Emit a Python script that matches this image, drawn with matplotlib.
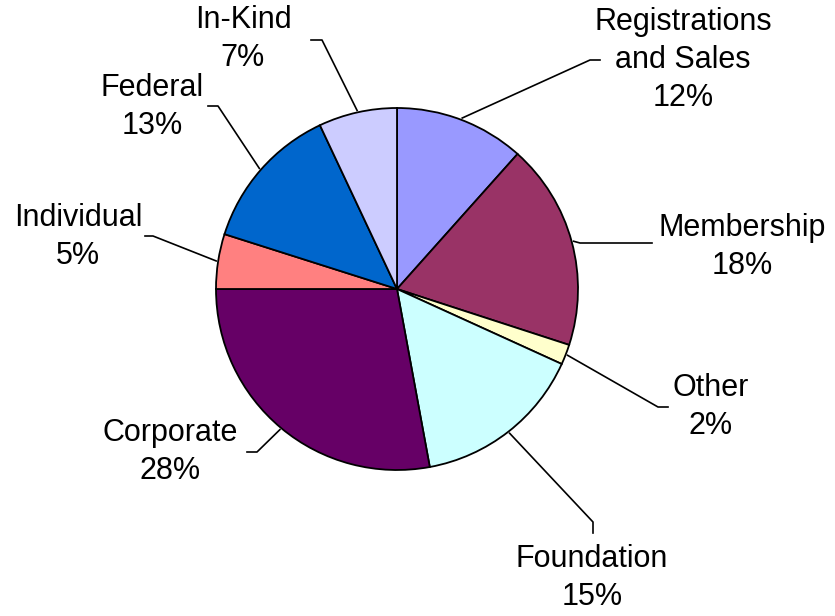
import numpy as np
import matplotlib
matplotlib.use("Agg")
import matplotlib.pyplot as plt

# Data
labels = ["Registrations\nand Sales", "Membership", "Other", "Foundation",
          "Corporate", "Individual", "Federal", "In-Kind"]
values = [11.6, 18.4, 1.8, 15.3, 27.9, 4.9, 13.1, 7.0]
colors = ["#9999FF", "#993366", "#FFFFCC", "#CCFFFF",
          "#660066", "#FF8080", "#0066CC", "#CCCCFF"]

# Layout (pixels from top-left)
W, H = 835, 616
CENTER = (397, 289)
RADIUS = 181
label_pos = [(683, 60), (742, 247), (711, 407), (592, 578),
             (170, 452), (78, 237), (152, 107), (243, 39)]
elbows = [[(590, 60), (600, 60)],
          [(580, 243), (652, 243)],
          [(658, 407), (668, 407)],
          [(593, 522), (593, 533)],
          [(257, 452), (247, 452)],
          [(153, 236), (145, 236)],
          [(218, 106), (208, 106)],
          [(322, 40), (311, 40)]]


def flip(p):
    return (p[0], H - p[1])


fig = plt.figure(figsize=(W / 100, H / 100), dpi=100)
ax = fig.add_axes([0, 0, 1, 1])

wedges, _ = ax.pie(values, colors=colors, startangle=90, counterclock=False,
                   center=flip(CENTER), radius=RADIUS,
                   wedgeprops=dict(edgecolor="black", linewidth=1.3))
ax.set_xlim(0, W)
ax.set_ylim(0, H)
ax.set_aspect("equal")
ax.axis("off")

total = sum(values)
cx, cy = flip(CENTER)
for w, lab, val, pos, elb in zip(wedges, labels, values, label_pos, elbows):
    mid = np.deg2rad((w.theta1 + w.theta2) / 2)
    start = (cx + (RADIUS + 2) * np.cos(mid), cy + (RADIUS + 2) * np.sin(mid))
    pts = [start] + [flip(p) for p in elb]
    ax.plot([p[0] for p in pts], [p[1] for p in pts], color="black", lw=1.2)
    pct = "%d%%" % round(val / total * 100)
    x, y = flip(pos)
    ax.text(x, y, lab + "\n" + pct, ha="center", va="center",
            fontsize=22, family="Liberation Sans", linespacing=1.36)

fig.savefig("out.png", dpi=100)
